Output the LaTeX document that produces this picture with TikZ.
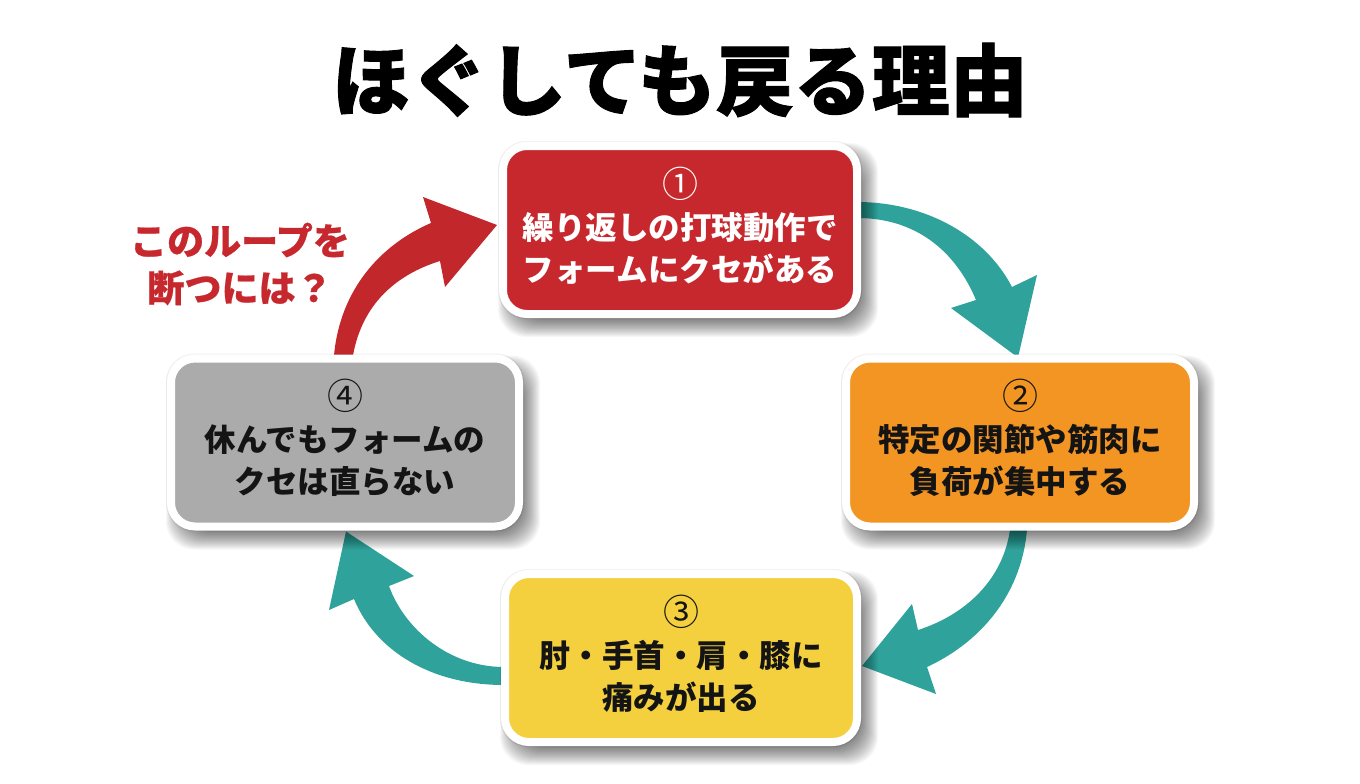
\documentclass[tikz,border=0pt]{standalone}
\usepackage{fontspec}
\usetikzlibrary{calc}
\setmainfont{Noto Sans CJK JP}
\newfontfamily\jpfont{Noto Sans CJK JP}
\newfontfamily\jptitle[BoldFeatures={FakeBold=1.2}]{Noto Sans CJK JP}
\newfontfamily\jphint[BoldFeatures={FakeBold=0.6}]{Noto Sans CJK JP}
\definecolor{cRed}{HTML}{C6282D}
\definecolor{cOrange}{HTML}{F39522}
\definecolor{cYellow}{HTML}{F4D03F}
\definecolor{cGray}{HTML}{ABABAB}
\definecolor{cTeal}{HTML}{2FA39B}
\definecolor{cInk}{HTML}{141414}
\pgfdeclarelayer{arrowlayer}
\pgfdeclarelayer{shadowlayer}
\pgfsetlayers{arrowlayer,shadowlayer,main}
\tikzset{
  stepbox/.style={rectangle,draw=white,line width=8pt,rounded corners=24pt,inner sep=0pt,outer sep=0pt,
    align=center,minimum width=354pt,minimum height=168pt,text=cInk,
    font=\jpfont\bfseries\fontsize{31.5}{42}\selectfont},
  tealarrow/.style={fill=cTeal},
  redarrow/.style={fill=cRed!98!black},
}
\newcommand{\numtxt}[1]{{\mdseries\fontsize{36}{42}\selectfont #1}}
\newcommand{\liftstrut}{\rule[-12pt]{0pt}{12pt}}
\newcommand{\softshadow}[1]{%
  \fill[black,opacity=.05,rounded corners=28pt]
    ($(#1.south west)+(-5,5)$) rectangle ($(#1.north east)+(5,-5)$);
  \foreach \m in {-6,-5,...,13}{%
    \fill[black,opacity=.03,rounded corners=28pt]
      ($(#1.south west)+(8-\m,10+\m)$) rectangle ($(#1.north east)+(8+\m,10-\m)$);
  }%
}
\begin{document}
\begin{tikzpicture}[x=1pt,y=-1pt]
\useasboundingbox (0,0) rectangle (1360,784);
\begin{pgfonlayer}{arrowlayer}
  \fill[white] (0,0) rectangle (1360,784);
\end{pgfonlayer}

\node[font=\jptitle\bfseries\fontsize{78}{90}\selectfont,text=black,inner sep=0pt] (title) at (680,80) {ほぐしても戻る理由};

\node[stepbox,fill=cRed,text=white] (n1) at (680,230) {\numtxt{①}\\繰り返しの打球動作で\\フォームにクセがある\liftstrut};
\node[stepbox,fill=cOrange,minimum width=348pt] (n2) at (1020,442.5) {\numtxt{②}\\特定の関節や筋肉に\\負荷が集中する\liftstrut};
\node[stepbox,fill=cYellow,minimum width=352pt] (n3) at (681,658) {\numtxt{③}\\肘・手首・肩・膝に\\痛みが出る\liftstrut};
\node[stepbox,fill=cGray,minimum width=348pt] (n4) at (345,442.5) {\numtxt{④}\\休んでもフォームの\\クセは直らない\liftstrut};

\node[font=\jphint\bfseries\fontsize{37}{47}\selectfont,text=cRed,align=center,inner sep=0pt] (hint) at (240,264) {このループを\\断つには？};

\begin{pgfonlayer}{shadowlayer}
  \softshadow{n1}\softshadow{n2}\softshadow{n3}\softshadow{n4}
\end{pgfonlayer}

\begin{pgfonlayer}{arrowlayer}
  % 1 -> 2
  \fill[tealarrow] ($(n1.east)+(0,-28)$) .. controls (925,202) and (985,235) .. (1012,287)
    -- (1037,275) -- ($(n2.north)+(-2,-1)$) -- (951,308) -- (976,300)
    .. controls (955,250) and (915,218) .. ($(n1.east)+(0,-12)$) -- cycle;
  % 2 -> 3
  \fill[tealarrow] ($(n2.south)+(7,3)$) .. controls (1022,590) and (985,640) .. (927,667)
    -- (936,694) -- ($(n3.east)+(5,8)$) -- (912,604) -- (918,630)
    .. controls (965,615) and (1003,580) .. ($(n2.south)+(-10,3)$) -- cycle;
  % 3 -> 4
  \fill[tealarrow] ($(n3.west)+(-1,27)$) .. controls (430,685) and (375,650) .. (354,599)
    -- (329,610) -- ($(n4.south)+(1,5)$) -- (414,576) -- (389,586)
    .. controls (405,630) and (450,667) .. ($(n3.west)+(-1,9)$) -- cycle;
  % 4 -> 1
  \fill[redarrow] ($(n4.north)+(-11,-3)$) .. controls (340,290) and (380,245) .. (431,223)
    -- (423,197) -- ($(n1.west)+(-6,-5)$) -- (445,287) -- (440,261)
    .. controls (395,275) and (362,305) .. ($(n4.north)+(8,-3)$) -- cycle;
\end{pgfonlayer}
\end{tikzpicture}
\end{document}
